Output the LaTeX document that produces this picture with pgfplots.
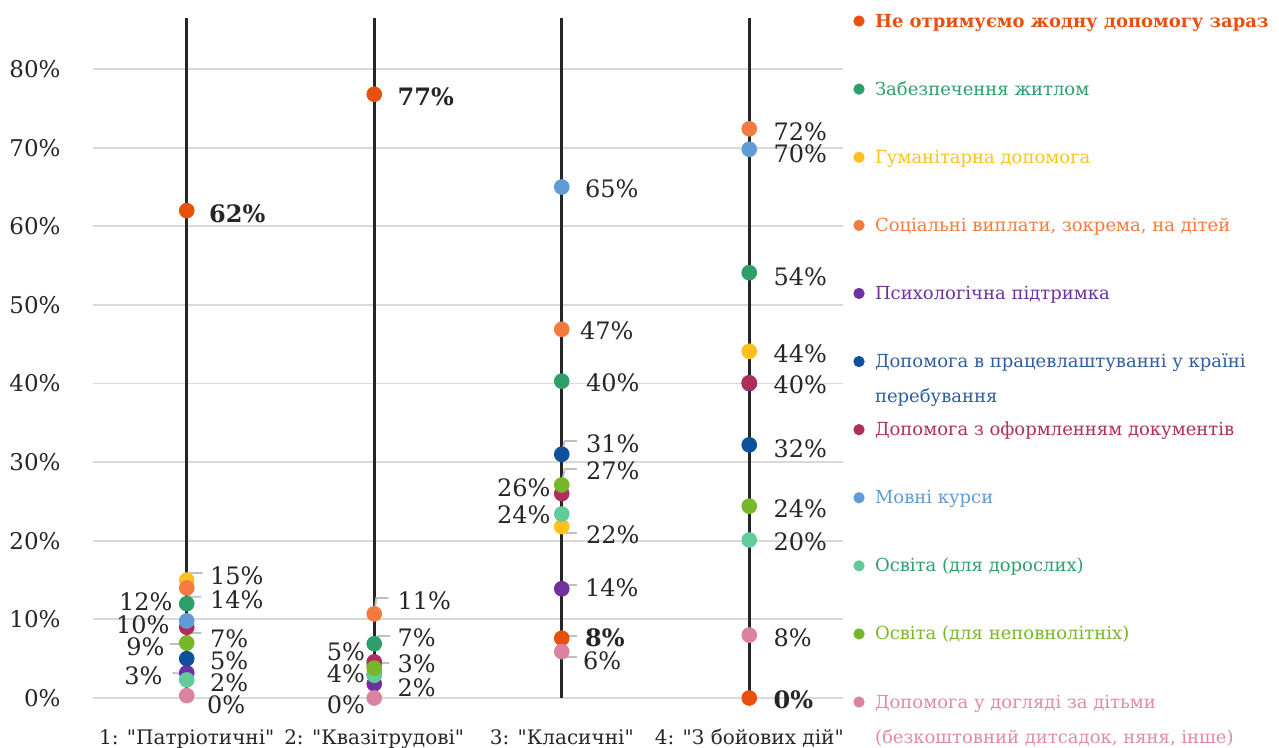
\documentclass[border=0pt]{standalone}
\usepackage{pgfplots}
\pgfplotsset{compat=1.18}
\usepackage{pgfplotstable}
\usepackage{fontspec}
\setmainfont{DejaVu Serif}
\usetikzlibrary{calc}

\definecolor{cNo}{HTML}{E8500E}
\definecolor{cHou}{HTML}{2E9E6B}
\definecolor{cHum}{HTML}{FDC11F}
\definecolor{cSoc}{HTML}{F47B3F}
\definecolor{cPsy}{HTML}{7030A0}
\definecolor{cEmp}{HTML}{0D519C}
\definecolor{cEmpT}{HTML}{2F5E9E}
\definecolor{cDoc}{HTML}{B02E5C}
\definecolor{cLan}{HTML}{5F9BD6}
\definecolor{cEdA}{HTML}{62CB9A}
\definecolor{cEdM}{HTML}{76B82A}
\definecolor{cChi}{HTML}{DA829F}
\definecolor{cChiT}{HTML}{E08AA8}
\definecolor{lab}{HTML}{262626}
\definecolor{vline}{HTML}{262626}
\definecolor{grid}{HTML}{D9D9D9}
\definecolor{leader}{HTML}{BFBFBF}

% dots: category x, value y
\pgfplotstableread{
x y
0 62
1 76.8
2 7.6
3 0
}\tNo
\pgfplotstableread{
x y
0 12
1 6.9
2 40.3
3 54.1
}\tHou
\pgfplotstableread{
x y
0 15
2 21.8
3 44.1
}\tHum
\pgfplotstableread{
x y
0 14
1 10.7
2 46.9
3 72.4
}\tSoc
\pgfplotstableread{
x y
0 3.2
1 1.8
2 13.9
}\tPsy
\pgfplotstableread{
x y
0 5
2 31
3 32.2
}\tEmp
\pgfplotstableread{
x y
0 9
1 4.6
2 26
3 40.1
}\tDoc
\pgfplotstableread{
x y
0 9.8
2 65
3 69.8
}\tLan
\pgfplotstableread{
x y
0 2.3
1 2.9
2 23.4
3 20.1
}\tEdA
\pgfplotstableread{
x y
0 7
1 3.8
2 27.1
3 24.4
}\tEdM
\pgfplotstableread{
x y
0 0.3
1 0
2 5.9
3 8
}\tChi

% labels: category c, value v, offset dx dy (px), text
\pgfplotstableread{
c v dx dy lab
0 62 22 -3.5 62
1 76.8 23 -3 77
2 7.6 23 0 8
3 0 24 -2 0
}\labB
\pgfplotstableread{
c v dx dy lab
1 6.9 23 6 7
2 40.3 24 -2 40
3 54.1 24 -4 54
0 15 23 4 15
2 21.8 24 -8 22
3 44.1 24 -2 44
0 14 23 -12 14
1 10.7 23 13 11
2 46.9 18 -1 47
3 72.4 24 -3 72
1 1.8 23 -4 2
2 13.9 23 1 14
0 5 23 -2 5
2 31 24 11 31
3 32.2 24 -4 32
3 40.1 24 -2 40
2 65 23 -2 65
3 69.8 24 -4 70
0 2.3 23 -3 2
1 2.9 23 11 3
3 20.1 24 -2 20
0 7 23 4 7
2 27.1 24 14 27
3 24.4 24 -3 24
0 0.3 20 -9 0
2 5.9 21 -9 6
3 8 24 -3 8
}\labR
\pgfplotstableread{
c v dx dy lab
0 12 -14 2 12
0 3.2 -24 -3 3
0 9 -22 -20 9
1 4.6 -9 10 5
2 26 -11 6 26
0 9.8 -17 -4 10
2 23.4 -11 -1 24
1 3.8 -9 -6 4
1 0 -9 -7 0
}\labL

\newcommand{\LE}[2]{\textcolor{#1}{#2}}

\pgfplotsset{
  dot/.style={only marks, mark=*, mark size=3.7pt, color=#1,
    mark options={draw=#1, fill=#1},
    legend image code/.code={\draw[##1, only marks, mark size=2.6pt] plot coordinates {(0pt,3pt)};},
  },
  hid/.style={only marks, mark=*, mark size=3.7pt, color=#1, mark options={draw=#1, fill=#1}, forget plot},
  labs/.style={forget plot, draw=none, point meta=explicit symbolic,
    nodes near coords={\pgfplotspointmeta\%},
    every node near coord/.append style={anchor=#1, inner sep=0pt, text=lab,
      font=\fontsize{12}{14}\selectfont}},
}

\begin{document}
\begin{tikzpicture}
\begin{axis}[name=ax, scale only axis, width=375pt, height=340pt,
  xmin=-0.5, xmax=3.5, ymin=0, ymax=86.5, clip=false,
  axis line style={draw=none}, major tick length=0pt,
  ytick={0,10,...,80}, yticklabel={\pgfmathprintnumber{\tick}\%},
  ymajorgrids, grid style={draw=grid, line width=0.9pt},
  xtick={0,1,2,3},
  xticklabels={1: \textquotedbl Патріотичні\textquotedbl, 2: \textquotedbl Квазітрудові\textquotedbl, 3: \textquotedbl Класичні\textquotedbl, 4: \textquotedbl З бойових дій\textquotedbl},
  /pgf/number format/assume math mode=true,
  yticklabel style={font=\fontsize{11.5}{13}\selectfont, text=lab, inner sep=0pt, xshift=-16pt},
  xticklabel style={font=\fontsize{10}{12}\selectfont, text=lab, anchor=base, yshift=-23.5pt},
  legend style={at={(1.0144,1.0161)}, anchor=north west, draw=none, fill=none,
    inner sep=0pt, outer sep=0pt, row sep=0pt, font=\fontsize{9}{11}\selectfont,
    cells={anchor=base west},
    nodes={inner sep=0pt, text height=10pt, text depth=24.05pt},
    /tikz/every odd column/.append style={column sep=5.4pt}},
]
% vertical lines
\addplot[forget plot, vline, line width=1.4pt] coordinates {(0,0) (0,86.5)};
\addplot[forget plot, vline, line width=1.4pt] coordinates {(1,0) (1,86.5)};
\addplot[forget plot, vline, line width=1.4pt] coordinates {(2,0) (2,86.5)};
\addplot[forget plot, vline, line width=1.4pt] coordinates {(3,0) (3,86.5)};
% hidden (overlapped) points
\addplot[hid=cHum] coordinates {(1,4)};
\addplot[hid=cEmp] coordinates {(1,3)};
\addplot[hid=cLan] coordinates {(1,4.2)};
\addplot[hid=cPsy] coordinates {(3,40)};

\addplot[dot=cNo] table[x=x, y=y] {\tNo};
\addlegendentry{\LE{cNo}{\bfseries Не отримуємо жодну допомогу зараз}}
\addplot[dot=cHou] table[x=x, y=y] {\tHou};
\addlegendentry{\LE{cHou}{Забезпечення житлом}}
\addplot[dot=cHum] table[x=x, y=y] {\tHum};
\addlegendentry{\LE{cHum}{Гуманітарна допомога}}
\addplot[dot=cSoc] table[x=x, y=y] {\tSoc};
\addlegendentry{\LE{cSoc}{Соціальні виплати, зокрема, на дітей}}
\addplot[dot=cPsy] table[x=x, y=y] {\tPsy};
\addlegendentry{\LE{cPsy}{Психологічна підтримка}}
\addplot[dot=cEmp] table[x=x, y=y] {\tEmp};
\addlegendentry{\LE{cEmpT}{\parbox[t]{220pt}{\fontsize{9}{17.5}\selectfont Допомога в працевлаштуванні у країні\newline перебування}}}
\addplot[dot=cDoc] table[x=x, y=y] {\tDoc};
\addlegendentry{\LE{cDoc}{Допомога з оформленням документів}}
\addplot[dot=cLan] table[x=x, y=y] {\tLan};
\addlegendentry{\LE{cLan}{Мовні курси}}
\addplot[dot=cEdA] table[x=x, y=y] {\tEdA};
\addlegendentry{\LE{cHou}{Освіта (для дорослих)}}
\addplot[dot=cEdM] table[x=x, y=y] {\tEdM};
\addlegendentry{\LE{cEdM}{Освіта (для неповнолітніх)}}
\addplot[dot=cChi] table[x=x, y=y] {\tChi};
\addlegendentry{\LE{cChiT}{\parbox[t]{220pt}{\fontsize{9}{17.5}\selectfont Допомога у догляді за дітьми\newline (безкоштовний дитсадок, няня, інше)}}}

% leader lines
\addplot[forget plot, leader, line width=0.9pt, unbounded coords=jump] coordinates {
(0,14.63) (0.016,15.9) (0.085,15.9) (nan,nan)
(0,13.86) (0.020,12.88) (0.078,12.88) (nan,nan)
(-0.091,6.87) (0,6.87) (nan,nan)
(0,7.5) (0.016,8.27) (0.078,8.27) (nan,nan)
(-0.076,3.18) (0,3.05) (nan,nan)
(1,10.81) (1.011,12.72) (1.075,12.72) (nan,nan)
(1,7.0) (1.021,7.89) (1.085,7.89) (nan,nan)
(1,3.18) (1.016,4.45) (1.080,4.45) (nan,nan)
(2,31.16) (2.016,32.69) (2.080,32.69) (nan,nan)
(2,27.35) (2.016,29.13) (2.080,29.13) (nan,nan)
(2,21.62) (2.027,20.99) (2.080,20.99) (nan,nan)
(2,13.99) (2.021,14.37) (2.080,14.37) (nan,nan)
(2,7.63) (2.016,7.89) (2.080,7.89) (nan,nan)
(2,5.72) (2.016,5.21) (2.080,5.21)
};

% data labels
\addplot[labs=west, every node near coord/.append style={font=\bfseries\fontsize{12}{14}\selectfont}]
  table[x expr=\thisrow{c}+\thisrow{dx}/187.5, y expr=\thisrow{v}+\thisrow{dy}/7.8625, meta=lab] {\labB};
\addplot[labs=west]
  table[x expr=\thisrow{c}+\thisrow{dx}/187.5, y expr=\thisrow{v}+\thisrow{dy}/7.8625, meta=lab] {\labR};
\addplot[labs=east]
  table[x expr=\thisrow{c}+\thisrow{dx}/187.5, y expr=\thisrow{v}+\thisrow{dy}/7.8625, meta=lab] {\labL};
\end{axis}
\pgfresetboundingbox
\path ($(ax.south west)+(-46.5pt,-25pt)$) rectangle ++(639.5pt,374pt);
\end{tikzpicture}
\end{document}
